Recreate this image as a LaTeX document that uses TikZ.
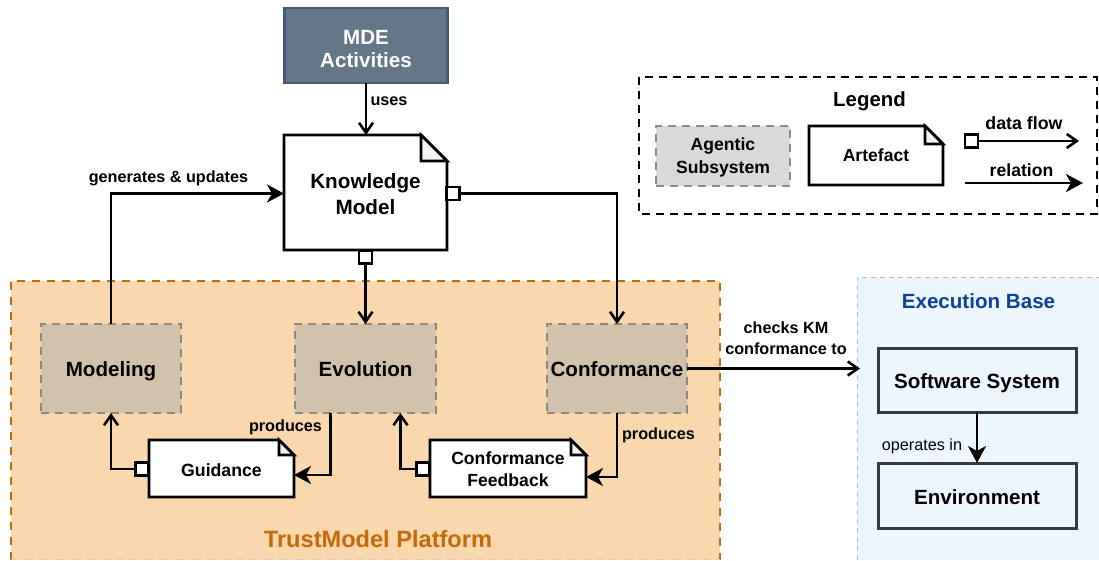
\documentclass[tikz,border=0pt]{standalone}
\usepackage{fontspec}
\setmainfont{Liberation Sans}
\usetikzlibrary{arrows.meta,calc}
\definecolor{platfill}{HTML}{FAD7AC}
\definecolor{platline}{HTML}{C46A0A}
\definecolor{platgrey}{HTML}{E0C8A8}
\definecolor{mdefill}{HTML}{647687}
\definecolor{mdeline}{HTML}{445A70}
\definecolor{agentfill}{HTML}{D3C2AB}
\definecolor{agentline}{HTML}{8E877B}
\definecolor{basefill}{HTML}{EEF6FD}
\definecolor{baseedge}{HTML}{BDBDBD}
\definecolor{basetext}{HTML}{0B4297}
\definecolor{boxline}{HTML}{36393D}
\definecolor{foldfill}{HTML}{F1F3F7}
\newcommand{\fs}[2]{\fontsize{#1}{#2}\selectfont}
\newcommand{\dn}[2][8pt]{\raisebox{-#1}[0pt][0pt]{\begin{tabular}{@{}c@{}}#2\end{tabular}}}
\tikzset{
  x=1pt,y=-1pt,
  txt/.style={inner sep=0pt,outer sep=0pt,align=center,font=\bfseries\fs{16.2}{21}},
  agent/.style={draw=agentline,fill=agentfill,line width=2.4pt,dash pattern=on 8pt off 6pt,inner sep=0pt,outer sep=0pt,align=center,font=\bfseries\fs{20.6}{24}},
  artbody/.style={inner sep=0pt,outer sep=0pt,align=center},
  portbox/.style={draw=black,fill=white,line width=2.5pt,minimum width=13pt,minimum height=13pt,inner sep=0pt,outer sep=0pt},
  conn/.style={draw=black,line width=2.6pt},
  openarrow/.style={conn,-{Straight Barb[length=10pt,width=14pt,line width=2.6pt]}},
  fillarrow/.style={conn,-{Stealth[length=17pt,width=18pt,inset=5pt]}},
  subbox/.style={draw=boxline,fill=basefill,line width=3pt,inner sep=0pt,outer sep=0pt,align=center,font=\bfseries\fs{20.6}{24}}
}
% name, left, top, width, height, fold, font, raise, text
\newcommand{\artefact}[9]{%
  \path[draw=black,fill=white,line width=2.7pt,line join=miter]
    (#2,#3) -- ({#2+#4-#6},#3) -- ({#2+#4},{#3+#6}) -- ({#2+#4},{#3+#5}) -- (#2,{#3+#5}) -- cycle;
  \path[draw=black,fill=foldfill,line width=2.7pt,line join=miter]
    ({#2+#4-#6},#3) -- ({#2+#4-#6},{#3+#6}) -- ({#2+#4},{#3+#6}) -- cycle;
  \node[artbody,minimum width=#4pt,minimum height=#5pt,font=#7] (#1) at ({#2+#4/2},{#3+#5/2}) {\dn[#8]{#9}};
}
\begin{document}
\begin{tikzpicture}
\useasboundingbox (0,0) rectangle (1099,560);
% containers
\fill[platfill] (11,281) rectangle (720,560);
\draw[platline,line width=2.4pt,dash pattern=on 8pt off 7pt] (11,560) -- (11,281) -- (720,281) -- (720,560);
\draw[platgrey,line width=1pt,dash pattern=on 8pt off 7pt] (11,559.5) -- (720,559.5);
\node[inner sep=0pt,font=\bfseries\fs{23.6}{26},text=platline] (plattitle) at (378,539.5) {TrustModel Platform};
\fill[basefill] (857,277) rectangle (1099,560);
\draw[baseedge,line width=1pt,dash pattern=on 5pt off 4pt] (857,560) -- (857,277) -- (1099,277);
\node[inner sep=0pt,font=\bfseries\fs{20.6}{24},text=basetext] (basetitle) at (978.5,301.5) {Execution Base};
% legend frame
\draw[black,line width=2.4pt,dash pattern=on 8pt off 6pt] (639,77) rectangle (1097,214);
\node[inner sep=0pt,font=\bfseries\fs{20.4}{24}] (legendtitle) at (869.5,101.5) {Legend};
\node[agent,font=\bfseries\fs{17.6}{23},fill=black!15,draw=black!45,minimum width=134pt,minimum height=60pt] (lagent) at (723,156) {\dn[6.2pt]{Agentic\\Subsystem}};
\artefact{lart}{809}{126}{134}{59}{18}{\bfseries\fs{17.6}{20}}{6.2pt}{Artefact}
\node[portbox] (lport) at (971.5,141) {};
\coordinate (ldataend) at (1079,141);
\coordinate (lrelstart) at (965,183);
\coordinate (lrelend) at (1083,183);
\draw[openarrow] (lport) -- (ldataend);
\draw[fillarrow] (lrelstart) -- (lrelend);
\node[txt,font=\bfseries\fs{17.8}{20}] (ldata) at (1024,123.5) {data flow};
\node[txt,font=\bfseries\fs{17.6}{20}] (lrel) at (1021.5,170) {relation};
% top
\node[draw=mdeline,fill=mdefill,text=white,line width=2.6pt,minimum width=163pt,minimum height=75pt,inner sep=0pt,outer sep=0pt,align=center,font=\bfseries\fs{20.6}{23}] (mde) at (366,45.5) {\dn[10.8pt]{MDE\\Activities}};
\artefact{km}{284}{135}{163}{115}{26}{\bfseries\fs{20.7}{26}}{9.3pt}{Knowledge\\Model}
\node[portbox] (kmr) at (453,193.5) {};
\node[portbox] (kmb) at (365.5,257) {};
% agents
\node[agent,minimum width=140pt,minimum height=89pt] (modeling) at (111,368.5) {\dn[8.3pt]{Modeling}};
\node[agent,minimum width=141pt,minimum height=89pt] (evolution) at (365.5,368.5) {\dn[8.3pt]{Evolution}};
\node[agent,minimum width=140pt,minimum height=89pt] (conformance) at (617,368.5) {\dn[8.3pt]{Conformance}};
% artefacts
\artefact{guid}{149}{440}{145}{57}{15}{\bfseries\fs{17.7}{22}}{7.9pt}{Guidance}
\artefact{feed}{430}{440}{156}{57}{15}{\bfseries\fs{17.6}{22}}{7.4pt}{Conformance\\Feedback}
\node[portbox] (gport) at (142,469) {};
\node[portbox] (fport) at (423,469) {};
% base boxes
\node[subbox,minimum width=198pt,minimum height=64pt] (soft) at (977,380) {\dn[8.8pt]{Software System}};
\node[subbox,minimum width=198pt,minimum height=65pt] (env) at (977,495.5) {\dn[9.3pt]{Environment}};
% connectors
\draw[openarrow] (mde) -- (mde |- km.north);
\draw[fillarrow] (modeling.north) |- (km.west |- 0,193.5);
\draw[openarrow] (kmr) -| (conformance.north);
\draw[openarrow] (kmb) -- (kmb |- evolution.north);
\draw[fillarrow] ($(evolution.south)+(-35,0)$) |- ($(guid.east)+(0,6.5)$);
\draw[openarrow] (gport) -| (modeling.south);
\draw[fillarrow] (conformance.south) |- ($(feed.east)+(0,8.5)$);
\draw[openarrow] (fport) -| ($(evolution.south)+(35,0)$);
\draw[openarrow] (conformance.east) -- (conformance.east -| 860,0);
\draw[fillarrow] (soft) -- (env);
% labels
\node[txt] (luses) at (389,101.5) {uses};
\node[txt] (lgen) at (168.5,178.5) {generates \& updates};
\node[txt] (lprod1) at (285.5,427.5) {produces};
\node[txt] (lprod2) at (658.5,435.5) {produces};
\node[txt] (lchecks) at (786,338.5) {checks KM\\conformance to};
\node[txt,font=\fs{16.2}{20}] (loper) at (922,446.5) {operates in};
\end{tikzpicture}
\end{document}
